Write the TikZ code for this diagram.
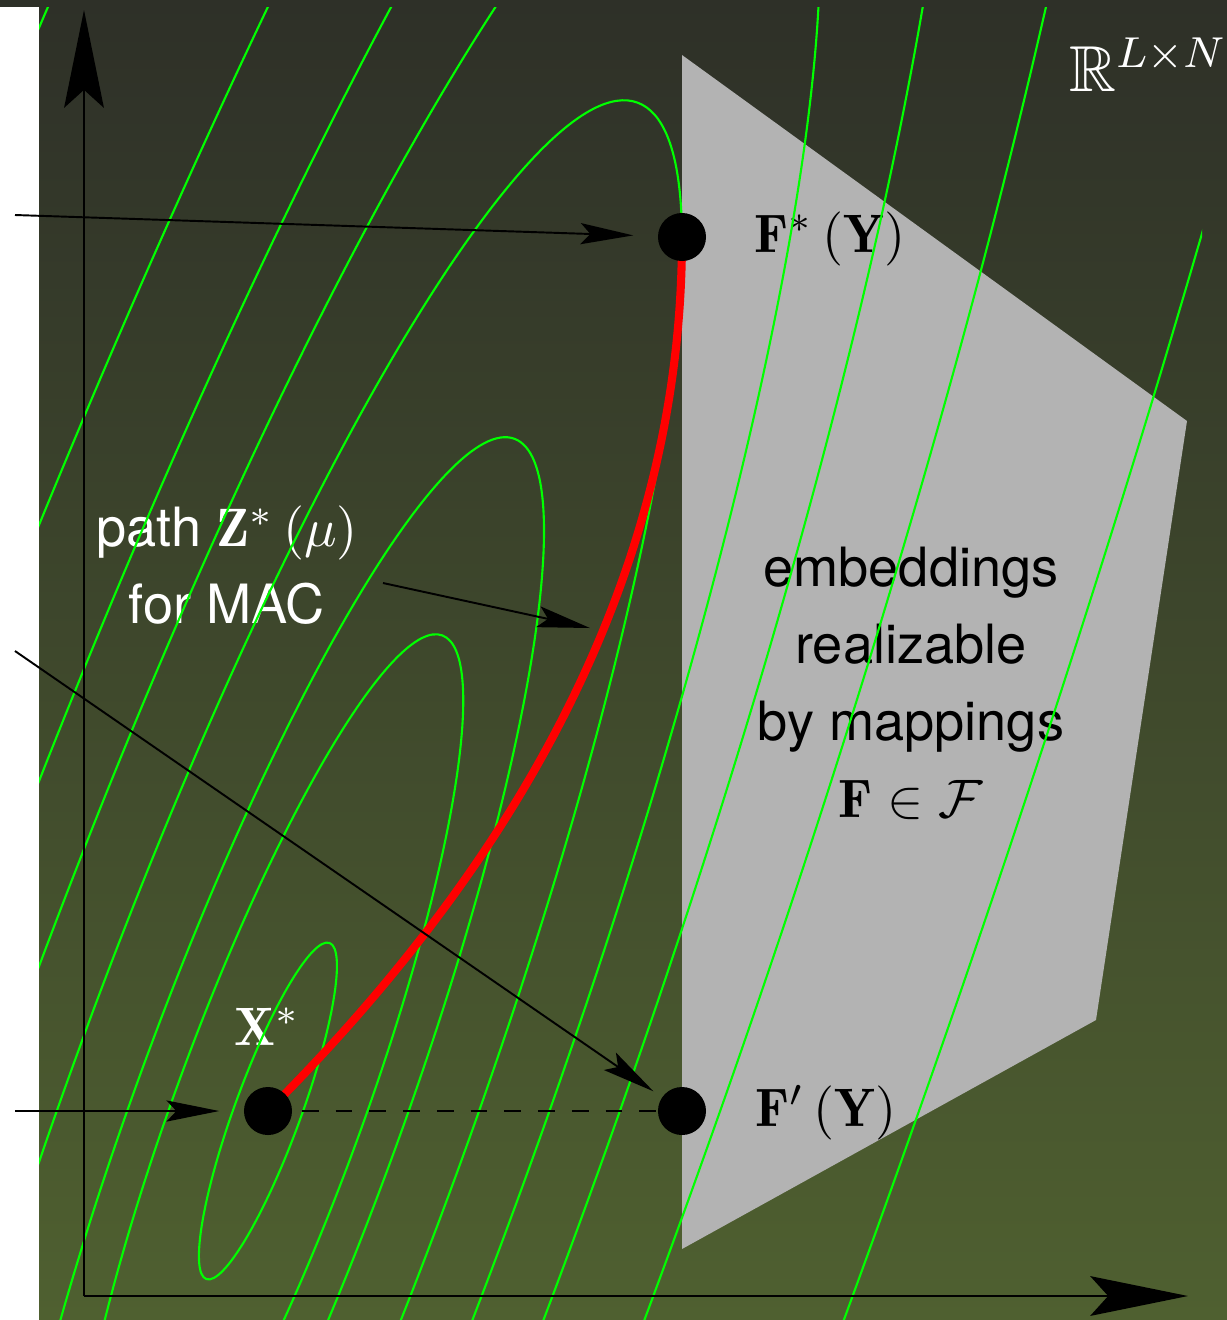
\RequirePackage{fix-cm}
\documentclass[tikz,border=0pt]{standalone}
\usepackage{amsmath}
\usepackage{amssymb}
\usepackage{fontspec}
\setsansfont{TeX Gyre Heros}
\usepackage{tikz}
\usetikzlibrary{arrows.meta}
\definecolor{bgTop}{HTML}{2E3028}
\definecolor{bgBottom}{HTML}{4F6030}
\definecolor{feasGray}{HTML}{B3B3B3}
\definecolor{levelGreen}{HTML}{00FF00}
\definecolor{macRed}{HTML}{FF0000}
\pgfdeclarelayer{backdrop}
\pgfdeclarelayer{front}
\pgfsetlayers{backdrop,main,front}

\begin{document}
\begin{tikzpicture}[
  x=0.01cm, y=-0.01cm,
  dot/.style={circle, fill=black, inner sep=0pt, minimum size=0.48cm},
  pointer/.style={-{Stealth[length=15pt, width=6pt, inset=2.8pt]}, line width=0.55pt},
  axisline/.style={-{Stealth[length=27.8pt, width=11.3pt, inset=5.1pt]}, line width=0.6pt},
  contour/.style={levelGreen, line width=0.6pt},
  macpath/.style={macRed, line width=2.3pt},
  dashline/.style={dash pattern=on 4.8pt off 4.8pt, line width=0.6pt},
  sanslabel/.style={font=\fontsize{10}{14.2}\selectfont\sffamily, scale=1.54, align=center, inner sep=0pt},
  mathlabel/.style={font=\fontsize{10}{14.2}\selectfont, scale=1.54, inner sep=0pt, anchor=base west},
]
\useasboundingbox (0,0) rectangle (1227,1320);

% shaded plane, feasible set and labels
\begin{pgfonlayer}{backdrop}
  \fill[bgTop] (0,0) rectangle (1227,7);
  \shade[top color=bgTop, bottom color=bgBottom] (39,0) rectangle (1227,1320);
  \fill[feasGray] (682,55) -- (1187,421) -- (1096,1020) -- (682,1249) -- cycle;
  \node[sanslabel] (feaslabel) at (911,683) {embeddings\\realizable\\by mappings\\$\mathbf{F}\in\mathcal{F}$};
  \node[sanslabel, white] (pathlabel) at (227,565) {path $\mathbf{Z}^*\,(\mu)$\\for MAC};
  \node[mathlabel] (fstarlabel) at (753,252) {$\mathbf{F}^*\,(\mathbf{Y})$};
  \node[mathlabel] (fprimelabel) at (754,1126) {$\mathbf{F}'\,(\mathbf{Y})$};
  \node[mathlabel, white] (xstarlabel) at (233,1045) {$\mathbf{X}^*$};
  \node[mathlabel, white, font=\fontsize{12}{14.2}\selectfont] (spacelabel) at (1068,91) {$\mathbb{R}^{L\times N}$};
\end{pgfonlayer}

% points
\begin{pgfonlayer}{front}
  \node[dot] (xstar) at (268,1111) {};
  \node[dot] (fstar) at (682,237) {};
  \node[dot] (fprime) at (682,1111) {};
\end{pgfonlayer}

% level sets around X*
\begin{scope}
  \clip (39,7) rectangle (1202,1320);
  \foreach \s in {1,2.83,4,6,8,10,12.85,18.5}
    \draw[contour, rotate around={69.87:(xstar.center)}] (xstar.center)
      ellipse [x radius={1.789cm*\s}, y radius={0.331cm*\s}];
\end{scope}

% MAC path and projection
\draw[macpath] (xstar.center) .. controls (551,828) and (682,537) .. (fstar.center);
\draw[dashline] (xstar.center) -- (fprime.center);

% axes
\coordinate (origin) at (84,1296);
\coordinate (yend) at (84,10);
\coordinate (xend) at (1188,1296);
\draw[axisline] (origin) -- (yend);
\draw[axisline] (origin) -- (xend);

% pointers
\coordinate (srcA) at (15,215);
\coordinate (srcB) at (15,651);
\coordinate (srcC) at (15,1111);
\coordinate (macfrom) at (383,583);
\coordinate (macto) at (590,628);
\draw[pointer, shorten >=0.24cm] (srcA) -- (fstar);
\draw[pointer, shorten >=0.1cm] (srcB) -- (fprime);
\draw[pointer, shorten >=0.24cm] (srcC) -- (xstar);
\draw[pointer] (macfrom) -- (macto);

\end{tikzpicture}
\end{document}
